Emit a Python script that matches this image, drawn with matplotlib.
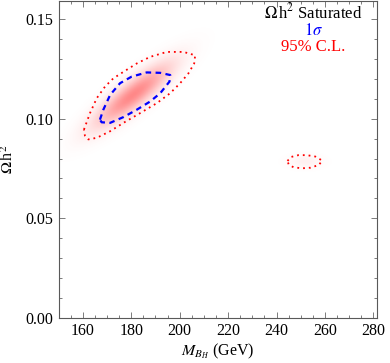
import numpy as np
import matplotlib
matplotlib.use('Agg')
import matplotlib.pyplot as plt
from matplotlib.ticker import MultipleLocator

plt.rcParams['font.family'] = ['Liberation Serif', 'DejaVu Serif']
plt.rcParams['mathtext.fontset'] = 'stix'

# 95% C.L. contour (dotted red)
cl95_x = [160.5, 163.0, 165.8, 169.2, 172.6, 176.8, 182.3, 187.8, 194.7, 201.6,
          206.4, 206.0, 203.6, 200.2, 196.1, 190.6, 183.7, 176.8, 171.3, 165.8,
          162.3, 160.9, 160.5]
cl95_y = [0.0945, 0.1028, 0.1103, 0.1161, 0.1202, 0.1235, 0.1277, 0.1310, 0.1335, 0.1335,
          0.1318, 0.1277, 0.1227, 0.1178, 0.1128, 0.1078, 0.1028, 0.0979, 0.0937, 0.0904,
          0.0896, 0.0915, 0.0945]

# second small 95% island
isl_x = [244.5, 246.0, 249.0, 252.5, 256.0, 258.8, 257.5, 254.0, 250.5, 247.0, 245.0, 244.5]
isl_y = [0.0788, 0.0808, 0.0817, 0.0817, 0.0810, 0.0790, 0.0768, 0.0754, 0.0751, 0.0756, 0.0770, 0.0788]

# 1 sigma contour (dashed blue)
s1_x = [167.1, 168.5, 171.3, 175.4, 180.2, 186.4, 192.0, 196.1, 195.8, 192.0,
        187.8, 182.3, 176.8, 171.3, 167.8, 167.1]
s1_y = [0.0995, 0.1045, 0.1119, 0.1178, 0.1211, 0.1232, 0.1230, 0.1219, 0.1186, 0.1128,
        0.1086, 0.1045, 0.1008, 0.0979, 0.0982, 0.0995]

# density blobs: centre x, centre y, sigma x, sigma y, correlation, weight
blob_cx = [180.5, 251.5]
blob_cy = [0.1120, 0.0785]
blob_sx = [10.5, 4.5]
blob_sy = [0.0105, 0.0022]
blob_rho = [0.86, 0.0]
blob_w = [1.0, 0.12]

xlim = (150, 281.5)
ylim = (0, 0.159)

fig = plt.figure(figsize=(3.9, 3.63), dpi=100)
ax = fig.add_axes([0.15, 0.124, 0.817, 0.873])

gx = np.linspace(xlim[0], xlim[1], 500)
gy = np.linspace(ylim[0], ylim[1], 500)
X, Y = np.meshgrid(gx, gy)
dens = np.zeros_like(X)
for cx, cy, sx, sy, r, w in zip(blob_cx, blob_cy, blob_sx, blob_sy, blob_rho, blob_w):
    u = (X - cx) / sx
    v = (Y - cy) / sy
    chi2 = (u**2 - 2 * r * u * v + v**2) / (1 - r**2)
    dens += w * np.exp(-0.5 * chi2)
dens = np.clip(dens, 0, 1)
rgba = np.zeros(X.shape + (4,))
rgba[..., 0] = 1.0
rgba[..., 1] = 0.35
rgba[..., 2] = 0.35
rgba[..., 3] = 0.72 * dens
ax.imshow(rgba, extent=(xlim[0], xlim[1], ylim[0], ylim[1]), origin='lower',
          aspect='auto', interpolation='bilinear', zorder=1)

ax.plot(cl95_x, cl95_y, color='red', ls=(0, (1, 2.2)), lw=1.3, zorder=3)
ax.plot(isl_x, isl_y, color='red', ls=(0, (1, 2.2)), lw=1.3, zorder=3)
ax.plot(s1_x, s1_y, color='blue', ls=(0, (2.5, 2)), lw=1.6, zorder=4)

ax.set_xlim(*xlim)
ax.set_ylim(*ylim)
ax.xaxis.set_major_locator(MultipleLocator(20))
ax.xaxis.set_minor_locator(MultipleLocator(5))
ax.yaxis.set_major_locator(MultipleLocator(0.05))
ax.yaxis.set_minor_locator(MultipleLocator(0.01))
ax.yaxis.set_major_formatter(plt.FuncFormatter(lambda v, p: f'{v:.2f}'))
ax.tick_params(which='both', direction='in', top=True, right=True, color='0.4',
               labelsize=11.5, width=0.6)
ax.tick_params(which='major', length=4)
ax.tick_params(which='minor', length=2)
for s in ax.spines.values():
    s.set_color('0.35')
    s.set_linewidth(0.8)

ax.set_xlabel(r'$M_{B_H}$ (GeV)', fontsize=11.5, labelpad=2)
ax.set_ylabel(r'$\Omega\,$h$^2$', fontsize=11.5, labelpad=6)

ax.text(0.80, 0.945, r'$\Omega\,$h$^2$ Saturated', transform=ax.transAxes,
        ha='center', va='baseline', fontsize=12, color='black')
ax.text(0.80, 0.893, r'$1\sigma$', transform=ax.transAxes,
        ha='center', va='baseline', fontsize=12, color='blue')
ax.text(0.80, 0.843, '95% C.L.', transform=ax.transAxes,
        ha='center', va='baseline', fontsize=12, color='red')

fig.savefig('out.png', dpi=100)
